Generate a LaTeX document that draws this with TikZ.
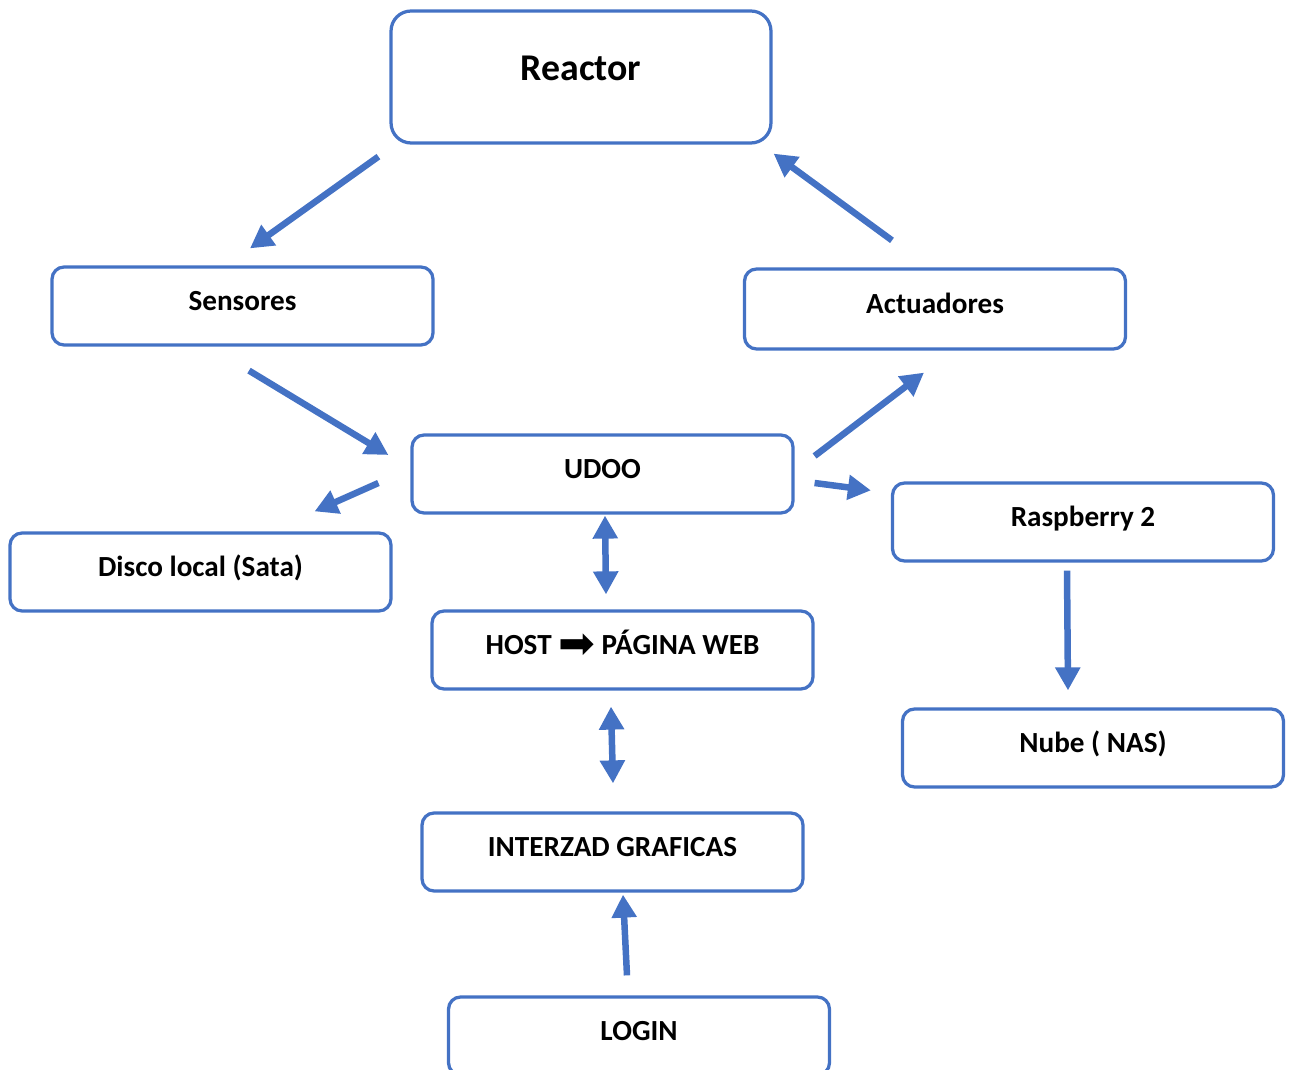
\documentclass[tikz,border=0pt]{standalone}
\usepackage{fontspec}
\setmainfont{Carlito}
\newfontfamily\arrowfont{DejaVu Sans}
\usetikzlibrary{arrows.meta, calc}
\definecolor{boxblue}{HTML}{4472C4}
\tikzset{
  caja/.style={draw=boxblue, line width=0.065cm, rounded corners=0.24cm,
    minimum width=7.62cm, minimum height=1.56cm, inner sep=0pt,
    font=\bfseries\fontsize{16.6}{19}\selectfont, text height=11pt, text depth=6pt},
  flecha/.style={draw=boxblue, line width=0.13cm, -{Triangle[length=0.46cm,width=0.48cm]}},
  dflecha/.style={flecha, {Triangle[length=0.46cm,width=0.48cm]}-{Triangle[length=0.46cm,width=0.48cm]}}
}
\begin{document}
\begin{tikzpicture}[x=0.02cm, y=-0.02cm]
      \useasboundingbox (0,0) rectangle (1289,1070);

      % cajas
      \node[caja, minimum width=7.6cm, minimum height=2.64cm, rounded corners=0.4cm,
        font=\bfseries\fontsize{21.5}{25}\selectfont, text height=15pt, text depth=11.4pt]
        (reactor) at (581,77) {Reactor};
      \node[caja] (sensores) at (242.5,306) {Sensores};
      \node[caja, minimum height=1.6cm] (actuadores) at (935,309) {Actuadores};
      \node[caja] (udoo) at (602.5,474) {UDOO};
      \node[caja] (disco) at (200.5,572) {Disco local (Sata)};
      \node[caja] (raspberry) at (1083,522) {Raspberry 2};
      \node[caja] (host) at (622.5,650) {HOST \raisebox{-0.08cm}{\arrowfont\mdseries\fontsize{25}{25}\selectfont ➡} PÁGINA WEB};
      \node[caja] (nube) at (1093,748) {Nube ( NAS)};
      \node[caja] (interzad) at (612.5,852) {INTERZAD GRAFICAS};
      \node[caja] (login) at (639,1036) {LOGIN};

      % flechas
      \draw[flecha] ($(reactor.south west)+(-11,12)$) -- ($(sensores.north)+(7.5,-17)$);
      \draw[flecha] ($(actuadores.north)+(-43,-27)$) -- ($(reactor.south east)+(1,9)$);
      \draw[flecha] ($(sensores.south)+(6.5,24)$) -- ($(udoo.west)+(-22,-19)$);
      \draw[flecha] ($(udoo.east)+(20,-18)$) -- ($(actuadores.south)+(-11,22)$);
      \draw[flecha] ($(udoo.west)+(-32,9)$) -- ($(disco.north east)+(-78,-20)$);
      \draw[flecha] ($(udoo.east)+(20,9)$) -- ($(raspberry.north west)+(-20,9)$);
      \draw[dflecha] ($(udoo.south)+(2.5,1)$) -- ($(host.north)+(-16.5,-15)$);
      \draw[dflecha] ($(host.south)+(-11.5,16)$) -- ($(interzad.north)+(0.5,-28)$);
      \draw[flecha] ($(login.north)+(-12,-20)$) -- ($(interzad.south)+(10.5,2)$);
      \draw[flecha] ($(raspberry.south)+(-16,8)$) -- ($(nube.north)+(-25,-17)$);
\end{tikzpicture}
\end{document}
